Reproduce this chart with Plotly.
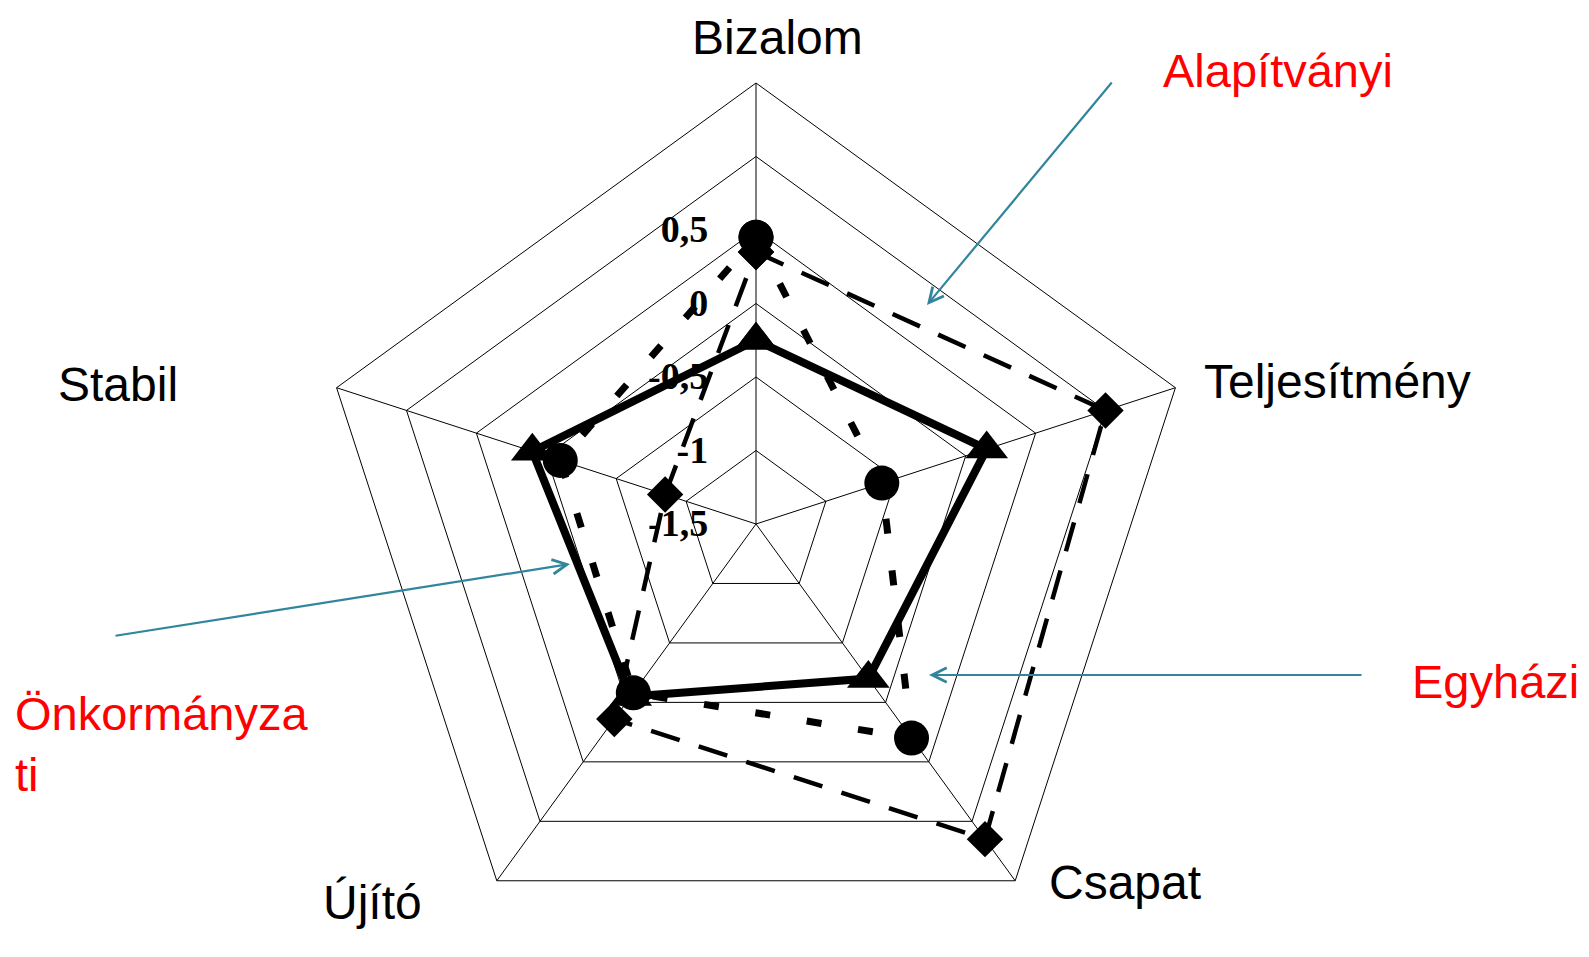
import plotly.graph_objects as go

# ---------------- data ----------------
categories = ["Bizalom", "Teljesítmény", "Csapat", "Újító", "Stabil"]
alapitvanyi = [0.35, 1.0, 1.15, 0.14, -0.85]      # diamonds, thin dashed
egyhazi = [0.45, -0.6, 0.3, -0.08, -0.1]          # circles, thick dashed
onkormanyzati = [-0.25, 0.15, -0.2, -0.05, 0.1]   # triangles, solid
radial_ticks = [-1.5, -1.0, -0.5, 0.0, 0.5, 1.0, 1.5]
radial_ticktext = ["-1,5", "-1", "-0,5", "0", "0,5", "", ""]
series_names = ["Alapítványi", "Egyházi", "Önkormányzati"]
RADIAL_MIN, RADIAL_MAX = -1.5, 1.5

# ---------------- geometry (page pixels) ----------------
W, H = 1589, 957
OFF = 8                      # page body margin
CX, CY, R = 756, 524, 441    # pentagon centre and radius on the page


def px(x):
    return (x - OFF) / W


def py(y):
    return 1 - (y - OFF) / H


def closed(v):
    return list(v) + [v[0]]


def rad(v):
    # plotly's polygon grid needs a non-negative radial range, so the
    # radial axis is measured from its minimum; tick texts keep real values
    return [x - RADIAL_MIN for x in v]


theta = closed(categories)
SANS = "Liberation Sans, Arial, sans-serif"
ARROW = "#31859C"

fig = go.Figure()
fig.add_trace(go.Scatterpolar(
    r=rad(closed(alapitvanyi)), theta=theta, name=series_names[0],
    mode="lines+markers", cliponaxis=False,
    line=dict(color="black", width=4.5, dash="30px,20px"),
    marker=dict(symbol="diamond", size=28, color="black"),
))
fig.add_trace(go.Scatterpolar(
    r=rad(closed(onkormanyzati)), theta=theta, name=series_names[2],
    mode="lines+markers", cliponaxis=False,
    line=dict(color="black", width=8),
    marker=dict(symbol="triangle-up", size=37, color="black"),
))
fig.add_trace(go.Scatterpolar(
    r=rad(closed(egyhazi)), theta=theta, name=series_names[1],
    mode="lines+markers", cliponaxis=False,
    line=dict(color="black", width=7, dash="15px,37px"),
    marker=dict(symbol="circle", size=35, color="black"),
))

annotations = []
# category labels
cat_font = dict(family=SANS, size=48, color="black")
annotations.append(dict(text=categories[0], x=px(777), y=1 - 1 / H,
                        xref="paper", yref="paper", xanchor="center",
                        yanchor="top", showarrow=False, font=cat_font))
cat_pos = [(1202, 381, "left"), (1047, 882, "left"),
           (424, 902, "right"), (180, 384, "right")]
for name, (x, y, anc) in zip(categories[1:], cat_pos):
    annotations.append(dict(
        text=name, x=px(x), y=py(y), xref="paper", yref="paper",
        xanchor=anc, yanchor="middle", showarrow=False, font=cat_font,
    ))

# red series labels
red = dict(family=SANS, size=47, color="#FF0000")
annotations.append(dict(text=series_names[0], x=px(1278), y=py(70),
                        xref="paper", yref="paper", xanchor="center",
                        yanchor="middle", showarrow=False, font=red))
annotations.append(dict(text=series_names[1], x=px(1495), y=py(681),
                        xref="paper", yref="paper", xanchor="center",
                        yanchor="middle", showarrow=False, font=red))
onk = series_names[2]
annotations.append(dict(text=onk[:11] + "<br>" + onk[11:], x=px(13), y=py(744),
                        xref="paper", yref="paper", xanchor="left",
                        yanchor="middle", align="left", showarrow=False,
                        font=red))

# arrows: (tip, tail) in page pixels
arrows = [((927, 305), (1113, 81)), ((570, 564), (114, 636)),
          ((929, 675), (1363, 675))]
for (tx, ty), (sx, sy) in arrows:
    annotations.append(dict(
        text="", x=px(tx), y=py(ty), xref="paper", yref="paper",
        ax=sx - tx, ay=sy - ty, showarrow=True, arrowhead=5,
        arrowsize=1.3, arrowwidth=2.2, arrowcolor=ARROW, standoff=0,
    ))

fcx, fcy = CX - OFF, CY - OFF          # centre in figure pixels
fig.update_layout(
    width=W, height=H, autosize=False,
    margin=dict(l=0, r=0, t=0, b=0),
    paper_bgcolor="white", plot_bgcolor="white",
    showlegend=False,
    annotations=annotations,
    polar=dict(
        domain=dict(x=[(fcx - R) / W, (fcx + R) / W],
                    y=[max(0, (H - fcy - R) / H), (H - fcy + R) / H]),
        bgcolor="white",
        gridshape="linear",
        radialaxis=dict(
            range=[0, RADIAL_MAX - RADIAL_MIN],
            tickvals=rad(radial_ticks), ticktext=radial_ticktext,
            angle=90, side="counterclockwise", showline=False, tickangle=90,
            gridcolor="black", gridwidth=1,
            ticks="outside", ticklen=34, tickcolor="rgba(0,0,0,0)",
            tickfont=dict(family="Liberation Serif, Times New Roman, serif",
                          size=38, color="black", weight="bold"),
            layer="below traces",
        ),
        angularaxis=dict(
            direction="clockwise", rotation=90, type="category",
            categoryorder="array", categoryarray=categories,
            showticklabels=False, ticks="",
            showline=True, linecolor="black", linewidth=1,
            gridcolor="black", gridwidth=1, layer="below traces",
        ),
    ),
)

fig.write_html("out.html")
